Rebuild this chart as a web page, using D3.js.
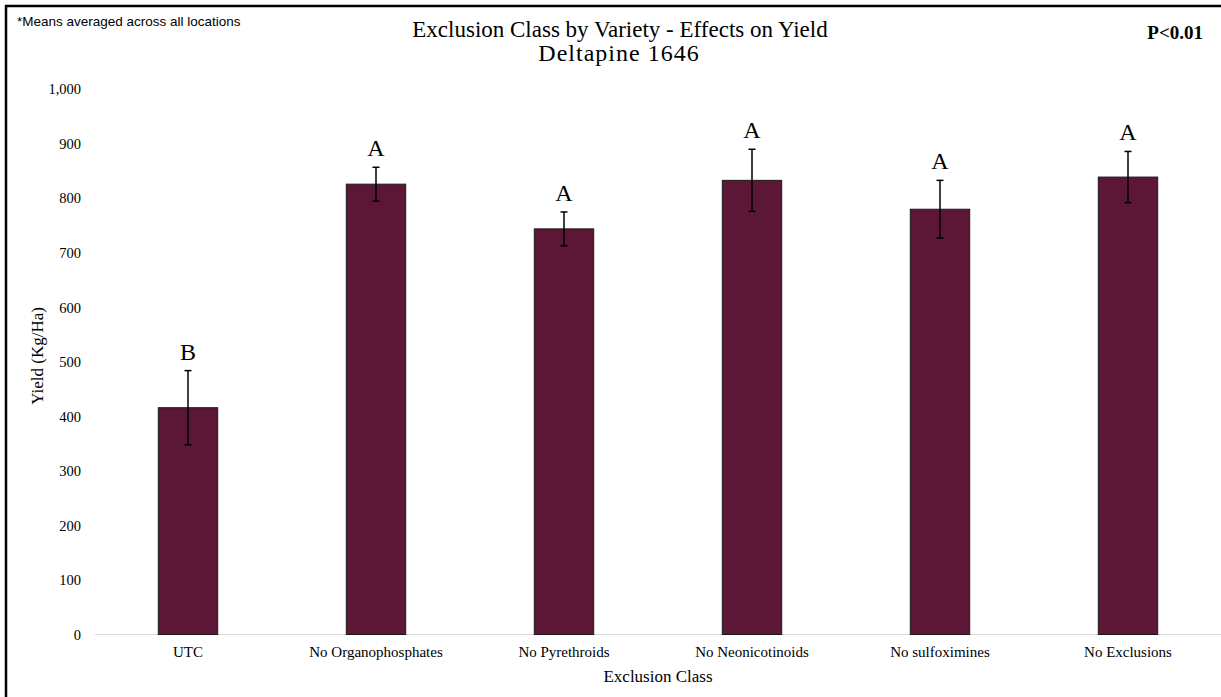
<!DOCTYPE html>
<html>
<head>
<meta charset="utf-8">
<script src="https://cdn.jsdelivr.net/npm/d3@7"></script>
<style>
  html, body { margin: 0; padding: 0; background: #fff; }
  svg { display: block; }
  .serif { font-family: "Liberation Serif", "Times New Roman", serif; fill: #000; }
</style>
</head>
<body>
<div id="chart"></div>
<script>
// chart data
const categories = ["UTC", "No Organophosphates", "No Pyrethroids", "No Neonicotinoids", "No sulfoximines", "No Exclusions"];
const yieldMeans = [416, 826, 744, 833, 780, 839];
const yieldErrors = [68, 31, 31, 57, 53, 47];
const groupLetters = ["B", "A", "A", "A", "A", "A"];
const yTicks = [0, 100, 200, 300, 400, 500, 600, 700, 800, 900, 1000];

const W = 1221, H = 697;
const barColor = "#5b1735";

const svg = d3.select("#chart").append("svg")
  .attr("width", W)
  .attr("height", H);

// scales
const x = d3.scaleBand()
  .domain(categories)
  .range([94, 1222])
  .paddingInner(0.684)
  .paddingOuter(0.342);

const y = d3.scaleLinear()
  .domain([0, 1000])
  .range([634.5, 89.3]);

// frame (only left and top edges show in the picture)
svg.append("line").attr("x1", 6).attr("x2", 6).attr("y1", 5).attr("y2", H)
  .attr("stroke", "#000").attr("stroke-width", 2.5);
svg.append("line").attr("x1", 5).attr("x2", W).attr("y1", 6).attr("y2", 6)
  .attr("stroke", "#000").attr("stroke-width", 2.5);

// y axis labels, no line or ticks
const yAxis = d3.axisLeft(y)
  .tickValues(yTicks)
  .tickFormat(d3.format(","))
  .tickSize(0)
  .tickPadding(0);

svg.append("g")
  .attr("transform", "translate(81,0)")
  .call(yAxis)
  .call(g => g.select(".domain").remove())
  .selectAll("text")
  .attr("class", "serif")
  .attr("font-size", 14.5)
  .attr("fill", "#222");

// baseline
svg.append("line")
  .attr("x1", 95).attr("x2", W)
  .attr("y1", y(0)).attr("y2", y(0))
  .attr("stroke", "#d9d9d9").attr("stroke-width", 1.2);

// x axis labels
const xAxis = d3.axisBottom(x).tickSize(0).tickPadding(0);
svg.append("g")
  .attr("transform", `translate(0,${y(0) + 12})`)
  .call(xAxis)
  .call(g => g.select(".domain").remove())
  .selectAll("text")
  .attr("class", "serif")
  .attr("font-size", 15)
  .attr("fill", "#222");

const rows = categories.map((c, i) => ({
  cat: c, mean: yieldMeans[i], err: yieldErrors[i], letter: groupLetters[i]
}));

// bars
svg.append("g").selectAll("rect")
  .data(rows)
  .join("rect")
  .attr("x", d => x(d.cat))
  .attr("y", d => y(d.mean))
  .attr("width", x.bandwidth())
  .attr("height", d => y(0) - y(d.mean))
  .attr("fill", barColor)
  .attr("stroke", "#1a1a1a")
  .attr("stroke-width", 1);

// error bars
const eb = svg.append("g").selectAll("g")
  .data(rows)
  .join("g")
  .attr("stroke", "#000")
  .attr("stroke-width", 1.5);

eb.append("line")
  .attr("x1", d => x(d.cat) + x.bandwidth() / 2)
  .attr("x2", d => x(d.cat) + x.bandwidth() / 2)
  .attr("y1", d => y(d.mean + d.err))
  .attr("y2", d => y(d.mean - d.err));
eb.append("line")
  .attr("x1", d => x(d.cat) + x.bandwidth() / 2 - 3.5)
  .attr("x2", d => x(d.cat) + x.bandwidth() / 2 + 3.5)
  .attr("y1", d => y(d.mean + d.err))
  .attr("y2", d => y(d.mean + d.err));
eb.append("line")
  .attr("x1", d => x(d.cat) + x.bandwidth() / 2 - 3.5)
  .attr("x2", d => x(d.cat) + x.bandwidth() / 2 + 3.5)
  .attr("y1", d => y(d.mean - d.err))
  .attr("y2", d => y(d.mean - d.err));

// significance letters
svg.append("g").selectAll("text")
  .data(rows)
  .join("text")
  .attr("class", "serif")
  .attr("x", d => x(d.cat) + x.bandwidth() / 2)
  .attr("y", d => y(d.mean + d.err) - 11)
  .attr("text-anchor", "middle")
  .attr("font-size", 24)
  .text(d => d.letter);

// titles
svg.append("text")
  .attr("class", "serif")
  .attr("x", 620).attr("y", 37)
  .attr("text-anchor", "middle")
  .attr("font-size", 23)
  .text("Exclusion Class by Variety - Effects on Yield");
svg.append("text")
  .attr("class", "serif")
  .attr("x", 619).attr("y", 61)
  .attr("text-anchor", "middle")
  .attr("font-size", 24)
  .attr("letter-spacing", 1)
  .text("Deltapine 1646");

svg.append("text")
  .attr("class", "serif")
  .attr("x", 1203).attr("y", 39)
  .attr("text-anchor", "end")
  .attr("font-size", 19)
  .attr("font-weight", "bold")
  .text("P<0.01");

svg.append("text")
  .attr("x", 17).attr("y", 26)
  .attr("font-family", "'Liberation Sans', Arial, sans-serif")
  .attr("font-size", 13.5)
  .attr("fill", "#000")
  .text("*Means averaged across all locations");

// axis titles
svg.append("text")
  .attr("class", "serif")
  .attr("x", 658).attr("y", 682)
  .attr("text-anchor", "middle")
  .attr("font-size", 17)
  .text("Exclusion Class");

svg.append("text")
  .attr("class", "serif")
  .attr("transform", "translate(43,356) rotate(-90)")
  .attr("text-anchor", "middle")
  .attr("font-size", 17)
  .text("Yield (Kg/Ha)");
</script>
</body>
</html>
